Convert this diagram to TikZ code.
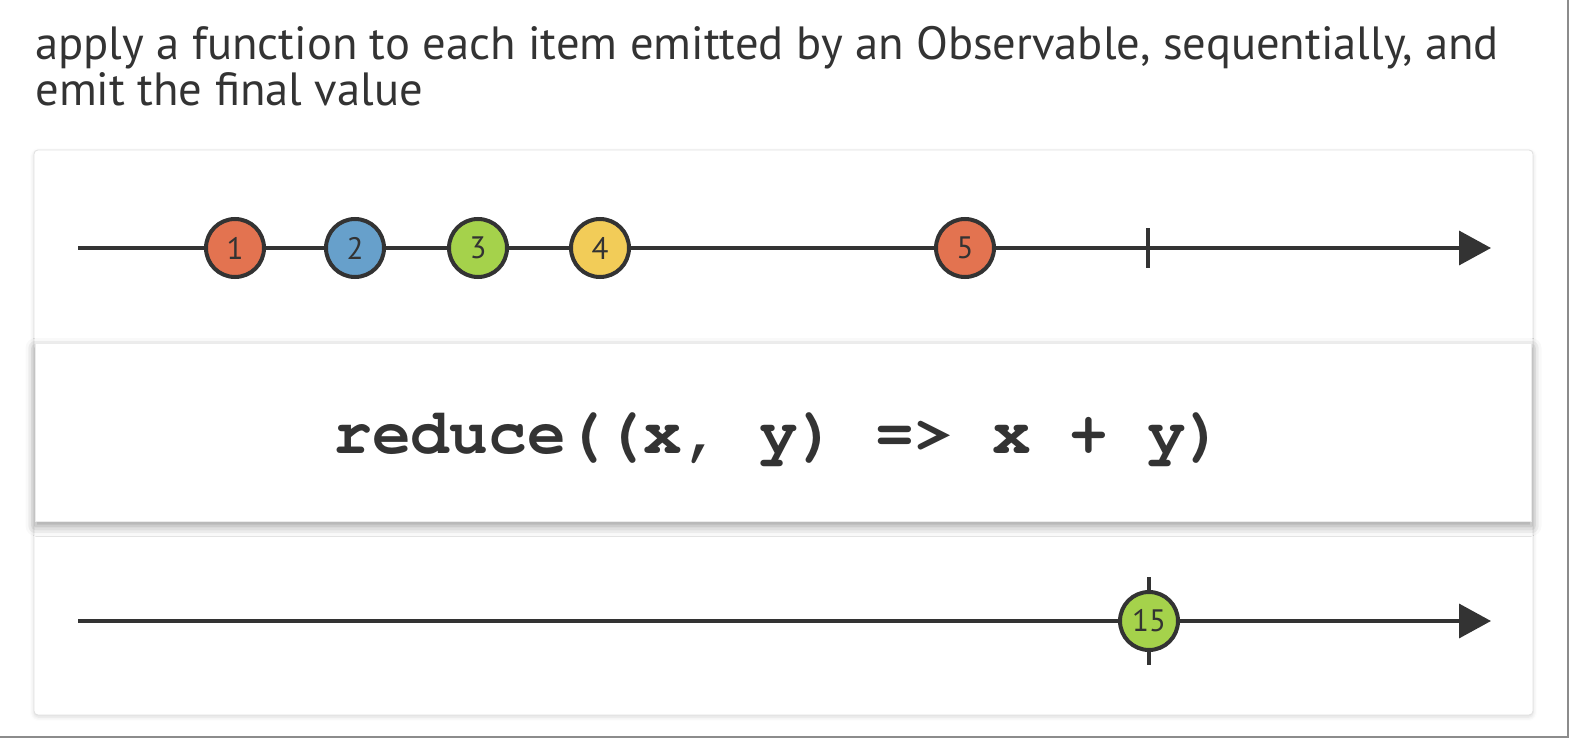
\documentclass[tikz,border=0pt]{standalone}
\usepackage[T1]{fontenc}
\usepackage{fontspec}
\setmainfont{PT Sans}
\newcommand{\codefont}{\fontencoding{T1}\fontfamily{pcr}\fontseries{b}\selectfont}
\usetikzlibrary{arrows.meta,shadows.blur}

\definecolor{ink}{HTML}{333333}
\definecolor{rosu}{HTML}{E37350}
\definecolor{albastru}{HTML}{67A0CB}
\definecolor{verde}{HTML}{A5D24B}
\definecolor{galben}{HTML}{F2CC58}

\tikzset{
  bila/.style={circle,draw=ink,line width=2pt,minimum size=29pt,inner sep=0pt,
    text=ink,font=\fontsize{15.5}{15.5}\selectfont},
  axa/.style={draw=ink,line width=1.8pt,-{Triangle[length=16pt,width=17pt]}},
  liniuta/.style={draw=ink,line width=1.8pt},
}

\begin{document}
\begin{tikzpicture}[x=0.5pt,y=-0.5pt]
  \useasboundingbox (0,0) rectangle (1570,738);

  % titlul
  \node[anchor=base west,inner sep=0pt,text=ink,font=\fontsize{23.3}{28}\selectfont] (titlu1) at (35,60)
    {apply a function to each item emitted by an Observable, sequentially, and};
  \node[anchor=base west,inner sep=0pt,text=ink,font=\fontsize{23.3}{28}\selectfont] (titlu2) at (35,106)
    {emit the final value};

  % panoul
  \draw[draw=black!12,fill=white,rounded corners=2pt,
    blur shadow={shadow xshift=0pt,shadow yshift=-1pt,shadow blur radius=2pt,shadow opacity=15}]
    (34,150) rectangle (1533,715);

  % axa de sus
  \coordinate (s1) at (78,248);
  \coordinate (e1) at (1491,248);
  \coordinate (t1) at (1148,248);
  \draw[axa] (s1) -- (e1);
  \draw[liniuta] ([yshift=10pt]t1) -- ([yshift=-10pt]t1);
  \foreach \x/\n/\c in {235/1/rosu, 355/2/albastru, 478/3/verde, 600/4/galben, 965/5/rosu}
    \node[bila,fill=\c] (b\n) at (\x,248) {\n};

  % operatorul
  \node[draw=black!8,fill=white,minimum width=748pt,minimum height=89pt,inner sep=0pt,
    blur shadow={shadow xshift=0pt,shadow yshift=-2.5pt,shadow blur radius=5pt,shadow opacity=40}]
    (op) at (783.5,432) {};
  \node[anchor=base,inner sep=0pt,text=ink,font=\codefont\fontsize{32.3}{32}\selectfont]
    (opText) at (779,453) {reduce((x, y) => x + y)};

  % axa de jos
  \coordinate (s2) at (78,621);
  \coordinate (e2) at (1491,621);
  \coordinate (t2) at (1149,621);
  \draw[axa] (s2) -- (e2);
  \draw[liniuta] ([yshift=22pt]t2) -- ([yshift=-22pt]t2);
  \node[bila,fill=verde] (rez) at (t2) {15};

  % chenarul
  \draw[gray!90,line width=0.75pt] (1568,0) -- (1568,737) -- (0,737);
\end{tikzpicture}
\end{document}
